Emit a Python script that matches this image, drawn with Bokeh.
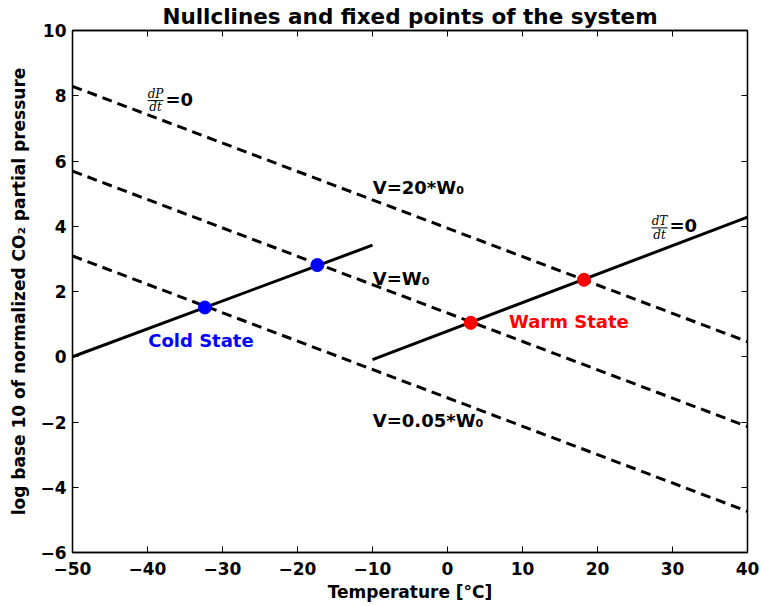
from bokeh.plotting import figure
from bokeh.models import (Label, LinearAxis, FixedTicker, CustomJSTickFormatter, Range1d)
from bokeh.embed import file_html
from bokeh.resources import INLINE

# ---- data ----
T_ends = [-50, 40]
logP_V20 = [8.29, 0.46]
logP_V1 = [5.69, -2.14]
logP_V005 = [3.09, -4.74]

T_cold_branch = [-50, -10]
logP_cold_branch = [0.0, 3.42]
T_warm_branch = [-10, 40]
logP_warm_branch = [-0.09, 4.28]

T_cold_pts = [-32.35, -17.35]
logP_cold_pts = [1.51, 2.81]
T_warm_pts = [3.1, 18.2]
logP_warm_pts = [1.04, 2.36]

x_ticks = [-50, -40, -30, -20, -10, 0, 10, 20, 30, 40]
y_ticks = [-6, -4, -2, 0, 2, 4, 6, 8, 10]

title_text = "Nullclines and fixed points of the system"
xlabel = "Temperature [°C]"
ylabel = "log base 10 of normalized CO₂ partial pressure"

FONT = "DejaVu Sans"

p = figure(width=761, height=606, output_backend="svg", toolbar_location=None,
           x_range=Range1d(-50, 40), y_range=Range1d(-6, 10),
           min_border_left=72, min_border_right=14, min_border_top=29, min_border_bottom=54)
p.background_fill_color = "white"
p.border_fill_color = "white"
p.outline_line_color = "black"
p.outline_line_width = 1.3
p.xgrid.visible = False
p.ygrid.visible = False

p.title.text = title_text
p.title.align = "center"
p.title.text_font = FONT
p.title.text_font_style = "bold"
p.title.text_font_size = "21.5px"
p.title.text_color = "black"
p.title.standoff = 3

minus_fmt = CustomJSTickFormatter(code="return (tick < 0 ? '\\u2212' : '') + Math.abs(tick).toString();")

def style_axis(ax, ticks, show_labels=True, standoff=6):
    ax.ticker = FixedTicker(ticks=ticks)
    ax.major_tick_in = 6
    ax.major_tick_out = 0
    ax.minor_tick_line_color = None
    ax.major_tick_line_width = 1
    ax.axis_line_width = 1.3
    ax.major_label_text_font = FONT
    ax.major_label_text_font_style = "bold"
    ax.major_label_text_font_size = "17px"
    ax.major_label_text_color = "black"
    ax.major_label_standoff = standoff
    if show_labels:
        ax.formatter = minus_fmt
    else:
        ax.formatter = CustomJSTickFormatter(code="return '';")
        ax.major_label_text_font_size = "0px"
        ax.major_label_standoff = 0

style_axis(p.xaxis[0], x_ticks, standoff=9)
style_axis(p.yaxis[0], y_ticks, standoff=6)
p.xaxis[0].axis_label = xlabel
p.yaxis[0].axis_label = ylabel
for ax, st in ((p.xaxis[0], 4), (p.yaxis[0], 8)):
    ax.axis_label_text_font = FONT
    ax.axis_label_text_font_style = "bold"
    ax.axis_label_text_font_size = "17px"
    ax.axis_label_text_color = "black"
    ax.axis_label_standoff = st

top_ax = LinearAxis()
right_ax = LinearAxis()
style_axis(top_ax, x_ticks, show_labels=False)
style_axis(right_ax, y_ticks, show_labels=False)
p.add_layout(top_ax, "above")
p.add_layout(right_ax, "right")

# ---- nullclines ----
DASH = "10 6"
for ys in (logP_V20, logP_V1, logP_V005):
    p.line(T_ends, ys, line_color="black", line_width=3, line_dash=DASH)
p.line(T_cold_branch, logP_cold_branch, line_color="black", line_width=3)
p.line(T_warm_branch, logP_warm_branch, line_color="black", line_width=3)

# ---- fixed points ----
p.scatter(T_cold_pts, logP_cold_pts, size=13, marker="circle", fill_color="#0000ff", line_color="#0000ff")
p.scatter(T_warm_pts, logP_warm_pts, size=13, marker="circle", fill_color="#ff0000", line_color="#ff0000")

# ---- annotations ----
def lab(x, y, text, size="18px", color="black", style="bold", font=FONT, align="left"):
    p.add_layout(Label(x=x, y=y, text=text, text_font=font, text_font_style=style,
                       text_font_size=size, text_color=color, text_align=align,
                       text_baseline="middle"))

def frac(xc, y_num, y_den, y_bar, num, den, x_eq, y_eq):
    lab(xc, y_num, num, size="12px", style="italic", font="DejaVu Serif", align="center")
    lab(xc, y_den, den, size="12px", style="italic", font="DejaVu Serif", align="center")
    p.segment(x0=[xc - 1.07], y0=[y_bar], x1=[xc + 1.07], y1=[y_bar], line_color="black", line_width=1)
    lab(x_eq, y_eq, "=0")

frac(-38.93, 8.05, 7.67, 7.85, "dP", "dt", -37.6, 7.90)
frac(28.27, 4.15, 3.74, 3.95, "dT", "dt", 29.6, 4.01)

lab(-9.96, 5.2, "V=20*W₀")
lab(-9.96, 2.39, "V=W₀")
lab(-9.96, -1.96, "V=0.05*W₀")
lab(8.2, 1.08, "Warm State", color="#ff0000")
lab(-39.9, 0.51, "Cold State", color="#0000ff")

open("out.html", "w").write(file_html(p, INLINE))
